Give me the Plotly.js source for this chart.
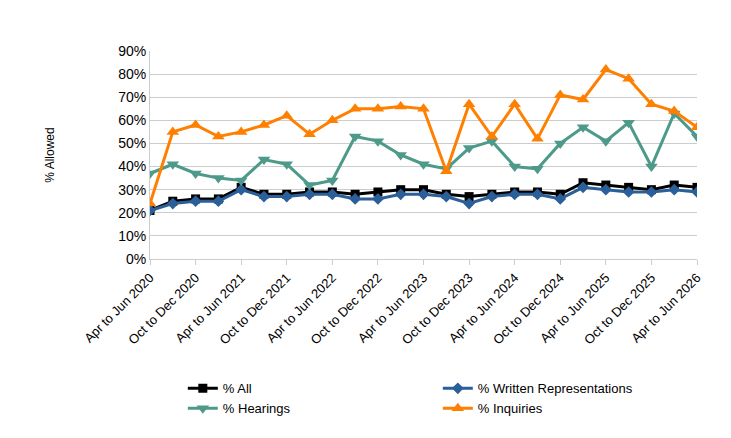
<!DOCTYPE html>
<html><head><meta charset="utf-8">
<script src="https://cdn.plot.ly/plotly-3.0.1.min.js"></script>
<style>body{margin:0;background:#fff}#t{position:absolute;left:12px;top:8px;font:italic 14px "Open Sans",sans-serif;color:#0f6f80}</style>
</head><body>
<div id="t">Figure 2. s78 planning appeal success rates by procedure type</div>
<div id="chart" style="width:731px;height:438px"></div>
<script>
const months = ['Apr to Jun','Jul to Sep','Oct to Dec','Jan to Mar'];
const quarters = [];
for (let i = 0; i < 25; i++) {
  const y = 2020 + Math.floor((i + 1) / 4);
  quarters.push(months[i % 4] + ' ' + y);
}
const pctAll = [21,25,26,26,31,28,28,29,29,28,29,30,30,28,27,28,29,29,28,33,32,31,30,32,31];
const pctWritten = [21,24,25,25,30,27,27,28,28,26,26,28,28,27,24,27,28,28,26,31,30,29,29,30,29];
const pctHearings = [37,41,37,35,34,43,41,32,34,53,51,45,41,39,48,51,40,39,50,57,51,59,40,63,53];
const pctInquiries = [24,55,58,53,55,58,62,54,60,65,65,66,65,38,67,53,67,52,71,69,82,78,67,64,57];

const idx = quarters.map((q, i) => i);
function tr(name, y, color, symbol, size) {
  return {x: idx, y: y, name: name, type: 'scatter', mode: 'lines+markers',
    line: {color: color, width: 3}, marker: {symbol: symbol, size: size, color: color}};
}
const traces = [
  tr('% All', pctAll, '#000000', 'square', 9),
  tr('% Written Representations', pctWritten, '#2a5f9a', 'diamond', 9),
  tr('% Hearings', pctHearings, '#4e9a8a', 'triangle-down', 11),
  tr('% Inquiries', pctInquiries, '#ff8000', 'triangle-up', 11)
];
const tickvals = idx.filter(i => i % 2 === 0);
const layout = {
  width: 731, height: 438,
  margin: {l: 150, r: 34, t: 51, b: 179},
  paper_bgcolor: '#fff', plot_bgcolor: '#fff',
  font: {family: 'Liberation Sans, Arial, sans-serif', size: 13, color: '#000'},
  showlegend: true,
  legend: {orientation: 'h', x: 0.06, xanchor: 'left', y: -0.55, yanchor: 'top',
    traceorder: 'normal', entrywidth: 210, font: {size: 13}},
  xaxis: {range: [0, 24], tickvals: tickvals, ticktext: tickvals.map(i => quarters[i]),
    tickangle: -45, showgrid: false, showline: true, linecolor: '#ccc', automargin: false,
    ticks: 'outside', ticklen: 5, tickcolor: '#ccc', zeroline: false},
  yaxis: {range: [0, 90], dtick: 10, ticksuffix: '%', gridcolor: '#ccc', automargin: false,
    showline: true, linecolor: '#ccc', zeroline: false, tickfont: {size: 14},
    title: {text: '% Allowed', font: {size: 12}, standoff: 60}}
};
Plotly.newPlot('chart', traces, layout, {displayModeBar: false});
</script>
</body></html>
